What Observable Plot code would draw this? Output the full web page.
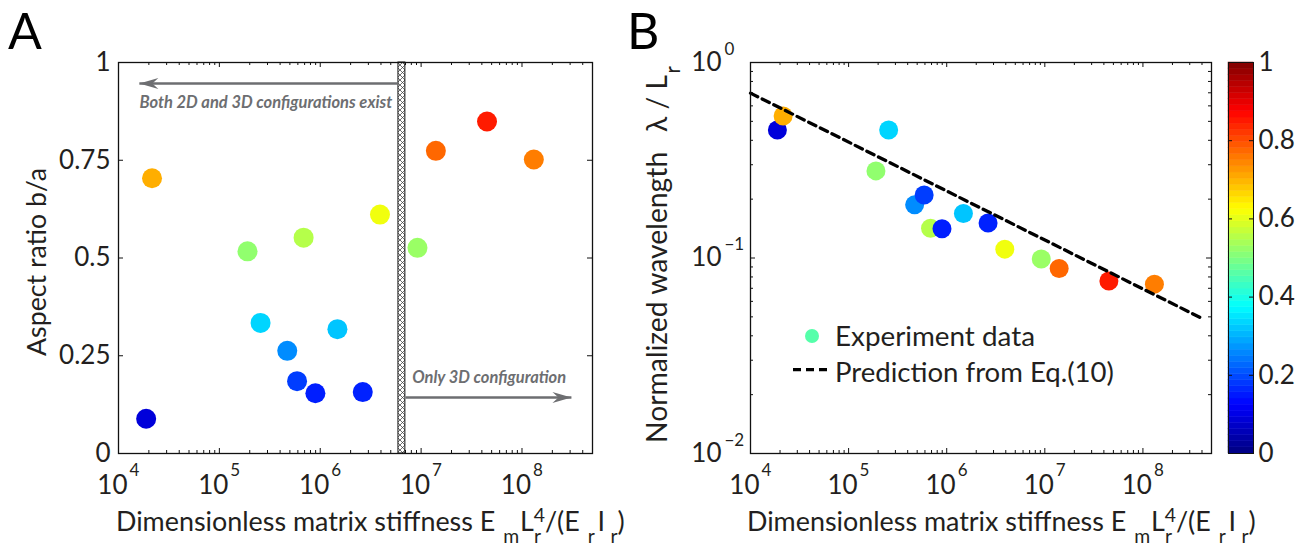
<!DOCTYPE html>
<html>
<head>
<meta charset="utf-8">
<script src="https://cdn.jsdelivr.net/npm/d3@7"></script>
<script src="https://cdn.jsdelivr.net/npm/@observablehq/plot@0.6"></script>
<style>
  body { margin: 0; background: #fff; }
  #wrap { position: relative; width: 1298px; height: 548px; overflow: hidden; font-family: Lato, sans-serif; }
  #wrap svg { position: absolute; top: 0; }
</style>
</head>
<body>
<div id="wrap"></div>
<script>
// ---------------- data ----------------
const stiffness   = [1.88e4, 2.15e4, 1.9e5, 2.56e5, 4.71e5, 5.89e5, 6.84e5, 8.95e5, 1.48e6, 2.64e6, 3.91e6, 9.2e6, 1.40e7, 4.50e7, 1.31e8];
const aspectRatio = [0.089, 0.704, 0.517, 0.334, 0.2625, 0.185, 0.552, 0.154, 0.318, 0.157, 0.611, 0.526, 0.774, 0.849, 0.752];
const wavelength  = [0.452, 0.533, 0.279, 0.452, 0.187, 0.210, 0.142, 0.141, 0.169, 0.151, 0.111, 0.0988, 0.0884, 0.0762, 0.0735];

const predictionStiffness = [1e4, 4e8];
const predictionWavelength = [0.697, 0.0491];

const xTickValues = [1e4, 1e5, 1e6, 1e7, 1e8];
const xTickExponents = ["4", "5", "6", "7", "8"];
const aspectTickValues = [0, 0.25, 0.5, 0.75, 1];
const aspectTickLabels = ["0", "0.25", "0.5", "0.75", "1"];
const wavelengthTickValues = [0.01, 0.1, 1];
const wavelengthTickExponents = ["\u22122", "\u22121", "0"];
const colorbarTickValues = [0, 0.2, 0.4, 0.6, 0.8, 1];
const colorbarTickLabels = ["0", "0.2", "0.4", "0.6", "0.8", "1"];

// transition band and regime annotations (panel A)
const transitionBand = [5.96e6, 6.98e6];
const arrowLeft  = {x1: 5.96e6, x2: 1.61e4, y: 0.946};
const arrowRight = {x1: 6.98e6, x2: 3.09e8, y: 0.143};
const noteLeft  = {x: 1.63e4, y: 0.8816, text: "Both 2D and 3D configurations exist"};
const noteRight = {x: 8.26e6, y: 0.1798, text: "Only 3D configuration"};

// ---------------- helpers ----------------
const jet = {
  type: "linear",
  domain: [0, 0.125, 0.375, 0.625, 0.875, 1],
  range: ["#000080", "#0000ff", "#00ffff", "#ffff00", "#ff0000", "#800000"],
  interpolate: "rgb"
};
const points = stiffness.map((s, i) => ({s, ar: aspectRatio[i], wl: wavelength[i]}));
const prediction = predictionStiffness.map((s, i) => ({s, wl: predictionWavelength[i]}));

const xMinor = [];
for (let e = 4; e <= 8; e++) for (let k = 2; k <= 9; k++) { const v = k * 10 ** e; if (v < 5e8) xMinor.push(v); }
const yMinorB = [];
for (let e = -2; e <= -1; e++) for (let k = 2; k <= 9; k++) yMinorB.push(k * 10 ** e);

const INK = "#231f20";
const TICK_FS = 26;
const SVG_STYLE = "font-family: Lato, sans-serif; overflow: visible; background: transparent;";

function richText(parts, o) {
  return (index, scales, values, dims) => {
    const px = typeof o.x === "function" ? o.x(scales, dims) : o.x;
    const py = typeof o.y === "function" ? o.y(scales, dims) : o.y;
    const t = d3.create("svg:text")
      .attr("transform", `translate(${px},${py})` + (o.rotate ? ` rotate(${o.rotate})` : ""))
      .attr("text-anchor", o.anchor || "start")
      .attr("font-size", o.size || 26)
      .attr("fill", o.fill || INK)
      .style("white-space", "pre");
    if (o.weight) t.attr("font-weight", o.weight);
    if (o.italic) t.attr("font-style", "italic");
    if (o.fit) t.attr("data-fit", o.fit);
    let cur = 0;
    for (const p of parts) {
      const k = p.small ? 0.72 : 1;
      const s = t.append("tspan").text(p.t);
      if (p.small) s.style("font-size", "72%");
      const shift = p.shift || 0;
      if (shift !== cur) s.attr("dy", ((shift - cur) / k).toFixed(3) + "em");
      if (p.dx) s.attr("dx", (p.dx / k).toFixed(3) + "em");
      cur = shift;
    }
    return t.node();
  };
}

const xLabelParts = [
  {t: "Dimensionless matrix stiffness E"},
  {t: "m", small: true, shift: 0.45, dx: 0.3},
  {t: "L", shift: 0, dx: 0.03},
  {t: "r", small: true, shift: 0.45},
  {t: "4", small: true, shift: -0.33, dx: -0.27},
  {t: "/(E", shift: 0},
  {t: "r", small: true, shift: 0.45, dx: 0.3},
  {t: "I", shift: 0, dx: 0.1},
  {t: "r", small: true, shift: 0.45, dx: 0.2},
  {t: ")", shift: 0}
];

const headLeft = {draw(ctx) { ctx.moveTo(0, 0); ctx.lineTo(19, -5.5); ctx.lineTo(13, 0); ctx.lineTo(19, 5.5); ctx.closePath(); }};
const headRight = {draw(ctx) { ctx.moveTo(0, 0); ctx.lineTo(-19, -5.5); ctx.lineTo(-13, 0); ctx.lineTo(-19, 5.5); ctx.closePath(); }};

function xTickMarks(innerH, major = 5, minor = 3) {
  return [
    Plot.ruleX(xMinor, {x: d => d, insetTop: innerH - minor, stroke: "#111"}),
    Plot.ruleX(xMinor, {x: d => d, insetBottom: innerH - minor, stroke: "#111"}),
    Plot.ruleX(xTickValues, {x: d => d, insetTop: innerH - major, stroke: "#111"}),
    Plot.ruleX(xTickValues, {x: d => d, insetBottom: innerH - major, stroke: "#111"})
  ];
}
function xTickLabels() {
  return [
    Plot.text(xTickValues, {x: d => d, text: () => "10", frameAnchor: "bottom", lineAnchor: "bottom", dy: 40, dx: 9, textAnchor: "end", fontSize: TICK_FS, fill: INK}),
    Plot.text(xTickValues, {x: d => d, text: (d, i) => xTickExponents[i], frameAnchor: "bottom", lineAnchor: "bottom", dy: 22, dx: 11, textAnchor: "start", fontSize: 17, fill: INK})
  ];
}

const wrap = document.getElementById("wrap");
function place(svg, left) { svg.style.left = left + "px"; wrap.appendChild(svg); }

// ---------------- panel A ----------------
const A = {width: 620, height: 548, mt: 62, mb: 95, ml: 118, mr: 28};
const AinnerW = A.width - A.ml - A.mr, AinnerH = A.height - A.mt - A.mb;

const hatchBand = (index, scales, values, dims) => {
  const g = d3.create("svg:g");
  const defs = g.append("defs");
  const pat = defs.append("pattern").attr("id", "hatchA").attr("patternUnits", "userSpaceOnUse")
    .attr("width", 5).attr("height", 5);
  pat.append("rect").attr("width", 5).attr("height", 5).attr("fill", "#fff");
  pat.append("path").attr("d", "M0,0L5,5M5,0L0,5").attr("stroke", "#333").attr("stroke-width", 0.7);
  const x1 = scales.x(transitionBand[0]), x2 = scales.x(transitionBand[1]);
  g.append("rect").attr("x", x1).attr("width", x2 - x1)
    .attr("y", scales.y(1)).attr("height", scales.y(0) - scales.y(1))
    .attr("fill", "url(#hatchA)").attr("stroke", "#111").attr("stroke-width", 1);
  return g.node();
};

const plotA = Plot.plot({
  width: A.width, height: A.height,
  marginTop: A.mt, marginBottom: A.mb, marginLeft: A.ml, marginRight: A.mr,
  x: {type: "log", domain: [1e4, 5e8], axis: null},
  y: {domain: [0, 1], axis: null},
  color: jet,
  style: SVG_STYLE,
  marks: [
    ...xTickMarks(AinnerH),
    Plot.ruleY(aspectTickValues, {y: d => d, insetRight: AinnerW - 5, stroke: "#111"}),
    Plot.ruleY(aspectTickValues, {y: d => d, insetLeft: AinnerW - 5, stroke: "#111"}),
    hatchBand,
    Plot.link([arrowLeft, arrowRight], {x1: "x1", x2: "x2", y1: "y", y2: "y", stroke: "#6d6e71", strokeWidth: 2.5}),
    Plot.dot([arrowLeft], {x: "x2", y: "y", symbol: headLeft, fill: "#6d6e71", r: 5}),
    Plot.dot([arrowRight], {x: "x2", y: "y", symbol: headRight, fill: "#6d6e71", r: 5}),
    richText([{t: noteLeft.text}], {x: s => s.x(noteLeft.x), y: s => s.y(noteLeft.y), size: 16, weight: "bold", italic: true, fill: "#6d6e71", fit: 253}),
    richText([{t: noteRight.text}], {x: s => s.x(noteRight.x), y: s => s.y(noteRight.y), size: 16, weight: "bold", italic: true, fill: "#6d6e71", fit: 154}),
    Plot.dot(points, {x: "s", y: "ar", r: 10, fill: "ar"}),
    Plot.frame({stroke: "#111", strokeWidth: 1.3}),
    ...xTickLabels(),
    Plot.text(aspectTickValues, {y: d => d, text: (d, i) => aspectTickLabels[i], frameAnchor: "left", textAnchor: "end", dx: -8, fontSize: TICK_FS, fill: INK}),
    richText(xLabelParts, {x: 116, y: 531, size: 26, fit: 509}),
    richText([{t: "Aspect ratio b/a"}], {x: 46, y: 262, rotate: -90, anchor: "middle", size: 27, fit: 188}),
    richText([{t: "A"}], {x: 8, y: 49, size: 50, fill: "#000"})
  ]
});
place(plotA, 0);

// ---------------- panel B ----------------
const B = {width: 620, height: 548, mt: 62, mb: 95, ml: 130, mr: 29};
const BinnerW = B.width - B.ml - B.mr, BinnerH = B.height - B.mt - B.mb;

const legendB = (index, scales, values, dims) => {
  const x0 = dims.marginLeft, y0 = dims.marginTop;
  const g = d3.create("svg:g");
  g.append("circle").attr("cx", x0 + 62).attr("cy", y0 + 274).attr("r", 7).attr("fill", "#55ffaa");
  g.append("line").attr("x1", x0 + 43).attr("x2", x0 + 81).attr("y1", y0 + 307.6).attr("y2", y0 + 307.6)
    .attr("stroke", "#000").attr("stroke-width", 3.3).attr("stroke-dasharray", "8,5");
  return g.node();
};

const plotB = Plot.plot({
  width: B.width, height: B.height,
  marginTop: B.mt, marginBottom: B.mb, marginLeft: B.ml, marginRight: B.mr,
  x: {type: "log", domain: [1e4, 5e8], axis: null},
  y: {type: "log", domain: [0.01, 1], axis: null},
  color: jet,
  style: SVG_STYLE,
  marks: [
    ...xTickMarks(BinnerH),
    Plot.ruleY(yMinorB, {y: d => d, insetRight: BinnerW - 3, stroke: "#111"}),
    Plot.ruleY(yMinorB, {y: d => d, insetLeft: BinnerW - 3, stroke: "#111"}),
    Plot.ruleY(wavelengthTickValues, {y: d => d, insetRight: BinnerW - 5, stroke: "#111"}),
    Plot.ruleY(wavelengthTickValues, {y: d => d, insetLeft: BinnerW - 5, stroke: "#111"}),
    Plot.dot(points, {x: "s", y: "wl", r: 9.5, fill: "ar"}),
    Plot.line(prediction, {x: "s", y: "wl", stroke: "#000", strokeWidth: 3.3, strokeDasharray: "8,5"}),
    legendB,
    richText([{t: "Experiment data"}], {x: (s, d) => d.marginLeft + 85, y: (s, d) => d.marginTop + 284, size: 24, fit: 200}),
    richText([{t: "Prediction from Eq.(10)"}], {x: (s, d) => d.marginLeft + 85, y: (s, d) => d.marginTop + 319.5, size: 24, fit: 279}),
    Plot.frame({stroke: "#111", strokeWidth: 1.3}),
    ...xTickLabels(),
    Plot.text(wavelengthTickValues, {y: d => d, text: () => "10", frameAnchor: "left", textAnchor: "end", dx: -29, fontSize: TICK_FS, fill: INK}),
    Plot.text(wavelengthTickValues, {y: d => d, text: (d, i) => wavelengthTickExponents[i], frameAnchor: "left", textAnchor: "start", dx: -26, dy: -13, fontSize: 17, fill: INK}),
    richText(xLabelParts, {x: 127, y: 531, size: 26, fit: 509}),
    richText([{t: "Normalized wavelength"}, {t: "\u03bb", dx: 0.7}, {t: " / L"}, {t: "r", small: true, shift: 0.45, dx: 0.05}],
      {x: 47, y: 254.5, rotate: -90, anchor: "middle", size: 27, fit: 377}),
    richText([{t: "B"}], {x: 7, y: 49, size: 50, fill: "#000"})
  ]
});
place(plotB, 620);

// ---------------- colorbar ----------------
const cells = d3.range(64);
const plotC = Plot.plot({
  width: 83, height: 548,
  marginTop: 62, marginBottom: 95, marginLeft: 13, marginRight: 45,
  x: {domain: [0, 1], axis: null},
  y: {domain: [0, 1], axis: null},
  color: jet,
  style: SVG_STYLE,
  marks: [
    Plot.rect(cells, {x1: 0, x2: 1, y1: d => d / 64, y2: d => (d + 1) / 64, fill: d => (d + 0.5) / 64, stroke: d => (d + 0.5) / 64, strokeWidth: 0.5}),
    Plot.ruleY(colorbarTickValues, {y: d => d, insetRight: 21, stroke: "#111"}),
    Plot.ruleY(colorbarTickValues, {y: d => d, insetLeft: 21, stroke: "#111"}),
    Plot.frame({stroke: "#111", strokeWidth: 1}),
    Plot.text(colorbarTickValues, {y: d => d, text: (d, i) => colorbarTickLabels[i], frameAnchor: "right", textAnchor: "start", dx: 5, fontSize: TICK_FS, fill: INK})
  ]
});
place(plotC, 1215);

// fit long labels to the reference widths
wrap.querySelectorAll("text[data-fit]").forEach(t => {
  const target = +t.getAttribute("data-fit");
  const w = t.getBBox().width;
  const fs = parseFloat(t.getAttribute("font-size"));
  if (w > 0) t.setAttribute("font-size", (fs * target / w).toFixed(2));
});
</script>
</body>
</html>
